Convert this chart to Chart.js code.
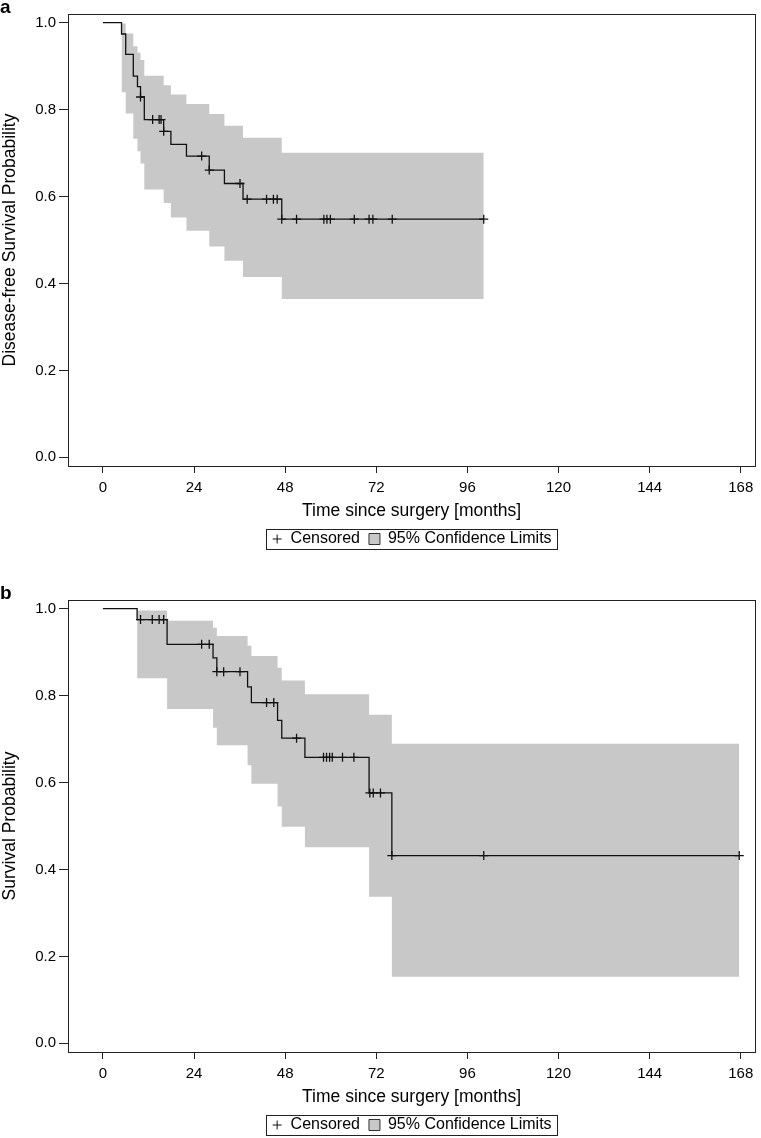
<!DOCTYPE html>
<html>
<head>
<meta charset="utf-8">
<script src="https://cdn.jsdelivr.net/npm/chart.js@4.4.1/dist/chart.umd.min.js"></script>
<style>
html, body { margin: 0; padding: 0; background: #fff; overflow: hidden; }
#wrap { position: relative; width: 761px; height: 1138px; overflow: hidden; }
canvas { position: absolute; left: 0; }
</style>
</head>
<body>
<div id="wrap">
  <canvas id="chartA" width="761" height="560" style="top:0px"></canvas>
  <canvas id="chartB" width="761" height="560" style="top:586px"></canvas>
</div>
<script>
var xTicks = [0, 24, 48, 72, 96, 120, 144, 168];
var yTicks = [0, 0.2, 0.4, 0.6, 0.8, 1.0];

// panel a - disease-free survival (event times in months)
var aTimes = [0, 4.9, 6.0, 8.0, 9.1, 9.9, 10.9, 16.0, 17.9, 22.0, 28.0, 32.0, 36.9, 47.1, 100.3];
var aSurv  = [1.0, 0.974, 0.927, 0.877, 0.853, 0.829, 0.777, 0.750, 0.720, 0.693, 0.661, 0.630, 0.594, 0.548, 0.548];
// confidence limits, same times without the first (t = 0)
var aUpper = [0.998, 0.975, 0.946, 0.931, 0.914, 0.878, 0.856, 0.835, 0.813, 0.790, 0.763, 0.735, 0.701, 0.701];
var aLower = [0.840, 0.791, 0.733, 0.704, 0.676, 0.616, 0.585, 0.552, 0.521, 0.485, 0.452, 0.415, 0.364, 0.364];
var aCensored = [9.9, 13.1, 14.8, 15.3, 16.0, 26.0, 28.0, 36.1, 38.0, 43.1, 44.9, 45.9, 47.1, 51.0,
                 58.2, 59.0, 59.9, 66.2, 70.1, 71.1, 76.2, 100.3];

// panel b - overall survival
var bTimes = [0, 9.0, 16.9, 29.0, 30.0, 38.1, 39.1, 46.0, 47.1, 53.2, 70.1, 76.1, 167.6];
var bSurv  = [1.0, 0.975, 0.918, 0.887, 0.855, 0.820, 0.784, 0.743, 0.702, 0.658, 0.576, 0.432, 0.432];
var bUpper = [0.996, 0.972, 0.956, 0.937, 0.915, 0.891, 0.864, 0.835, 0.803, 0.756, 0.689, 0.689];
var bLower = [0.840, 0.769, 0.726, 0.686, 0.640, 0.597, 0.545, 0.498, 0.451, 0.337, 0.153, 0.153];
var bCensored = [9.9, 13.0, 14.8, 16.0, 26.0, 28.0, 30.0, 31.8, 36.1, 43.1, 45.0, 51.0,
                 58.1, 58.9, 59.7, 60.4, 63.1, 66.1, 70.3, 71.2, 73.1, 76.1, 100.3, 167.6];

var font = "'Liberation Sans', Arial, sans-serif";
var ink = '#222';
var bandGrey = '#c8c8c8';

function pts(xs, ys) {
    return xs.map(function(x, i) { return {x: x, y: ys[i]}; });
}

// survival level in force at time t (censor marks sit on the curve)
function levelAt(times, surv, t) {
    var v = surv[0];
    for (var i = 0; i < times.length; i++) {
        if (times[i] <= t + 1e-6) v = surv[i];
    }
    return v;
}

// small "+" used as the legend symbol
var crossIcon = document.createElement('canvas');
crossIcon.width = 11; crossIcon.height = 11;
var ci = crossIcon.getContext('2d');
ci.strokeStyle = '#111'; ci.lineWidth = 1;
ci.beginPath();
ci.moveTo(5.5, 1); ci.lineTo(5.5, 10);
ci.moveTo(1, 5.5); ci.lineTo(10, 5.5);
ci.stroke();

var framePlugin = {
    id: 'frame',
    afterDraw: function(chart, args, opts) {
        var ctx = chart.ctx, a = chart.chartArea;
        ctx.save();
        ctx.strokeStyle = ink;
        ctx.lineWidth = 1;
        ctx.strokeRect(Math.round(a.left) + 0.5, Math.round(a.top) + 0.5,
                       Math.round(a.right - a.left), Math.round(a.bottom - a.top));
        var boxes = chart.legend.legendHitBoxes;
        if (boxes && boxes.length) {
            var l = Math.min.apply(null, boxes.map(function(b) { return b.left; })) - 6;
            var r = Math.max.apply(null, boxes.map(function(b) { return b.left + b.width; })) + 5;
            var t = boxes[0].top - 2, h = boxes[0].height + 4;
            ctx.strokeRect(Math.round(l) + 0.5, Math.round(t) + 0.5, Math.round(r - l), Math.round(h));
        }
        ctx.fillStyle = '#000';
        ctx.font = 'bold 19px ' + font;
        ctx.textBaseline = 'alphabetic';
        ctx.fillText(opts.letter, 0, 13);
        ctx.restore();
    }
};

function makeChart(id, letter, yTitle, times, surv, upper, lower, censored) {
    var bandTimes = times.slice(1);
    var censorPts = censored.map(function(t) { return {x: t, y: levelAt(times, surv, t)}; });

    return new Chart(document.getElementById(id).getContext('2d'), {
        type: 'line',
        data: {
            datasets: [
                {
                    label: 'Upper',
                    data: pts(bandTimes, upper),
                    stepped: 'before',
                    borderColor: 'rgba(0,0,0,0)',
                    borderWidth: 0,
                    pointRadius: 0,
                    fill: false,
                    order: 4
                },
                {
                    label: '95% Confidence Limits',
                    data: pts(bandTimes, lower),
                    stepped: 'before',
                    borderColor: 'rgba(0,0,0,0)',
                    borderWidth: 0,
                    backgroundColor: bandGrey,
                    pointRadius: 0,
                    fill: '-1',
                    order: 3
                },
                {
                    label: 'Survival',
                    data: pts(times, surv),
                    stepped: 'before',
                    borderColor: '#111',
                    borderWidth: 1.3,
                    pointRadius: 0,
                    fill: false,
                    order: 2
                },
                {
                    label: 'Censored',
                    data: censorPts,
                    showLine: false,
                    pointStyle: 'cross',
                    pointRadius: 4.5,
                    pointBorderWidth: 1.3,
                    borderColor: '#111',
                    order: 1
                }
            ]
        },
        options: {
            responsive: false,
            animation: false,
            events: [],
            layout: { padding: { top: 14, right: 4, bottom: 3, left: 0 } },
            scales: {
                x: {
                    type: 'linear',
                    min: -9.2,
                    max: 171.8,
                    afterBuildTicks: function(s) { s.ticks = xTicks.map(function(v) { return {value: v}; }); },
                    afterFit: function(s) { s.height = 56; },
                    border: { display: false },
                    grid: { drawOnChartArea: false, drawTicks: true, tickLength: 7, tickColor: ink, tickWidth: 1 },
                    ticks: { color: '#000', font: { family: font, size: 15 }, padding: 6, maxRotation: 0, autoSkip: false },
                    title: {
                        display: true,
                        text: 'Time since surgery [months]',
                        color: '#000',
                        font: { family: font, size: 17.5 },
                        padding: { top: 0, bottom: 0 }
                    }
                },
                y: {
                    min: -0.02,
                    max: 1.02,
                    afterBuildTicks: function(s) { s.ticks = yTicks.map(function(v) { return {value: v}; }); },
                    afterFit: function(s) { s.width = 68; },
                    border: { display: false },
                    grid: { drawOnChartArea: false, drawTicks: true, tickLength: 9, tickColor: ink, tickWidth: 1 },
                    ticks: {
                        color: '#000',
                        font: { family: font, size: 15 },
                        padding: 3,
                        callback: function(v) { return v.toFixed(1); }
                    },
                    title: {
                        display: true,
                        text: yTitle,
                        color: '#000',
                        font: { family: font, size: 17.5 },
                        padding: { top: 0, bottom: 0 }
                    }
                }
            },
            plugins: {
                tooltip: { enabled: false },
                frame: { letter: letter },
                legend: {
                    position: 'bottom',
                    fullSize: false,
                    onClick: null,
                    labels: {
                        usePointStyle: true,
                        boxWidth: 11,
                        boxHeight: 11,
                        padding: 9,
                        color: '#000',
                        font: { family: font, size: 16 },
                        generateLabels: function() {
                            return [
                                { text: 'Censored', pointStyle: crossIcon, fillStyle: '#000', strokeStyle: '#000', lineWidth: 0, hidden: false, datasetIndex: 3 },
                                { text: '95% Confidence Limits', pointStyle: 'rect', fillStyle: bandGrey, strokeStyle: '#333', lineWidth: 1, hidden: false, datasetIndex: 1 }
                            ];
                        }
                    }
                }
            }
        },
        plugins: [framePlugin]
    });
}

makeChart('chartA', 'a', 'Disease-free Survival Probability', aTimes, aSurv, aUpper, aLower, aCensored);
makeChart('chartB', 'b', 'Survival Probability', bTimes, bSurv, bUpper, bLower, bCensored);
</script>
</body>
</html>
